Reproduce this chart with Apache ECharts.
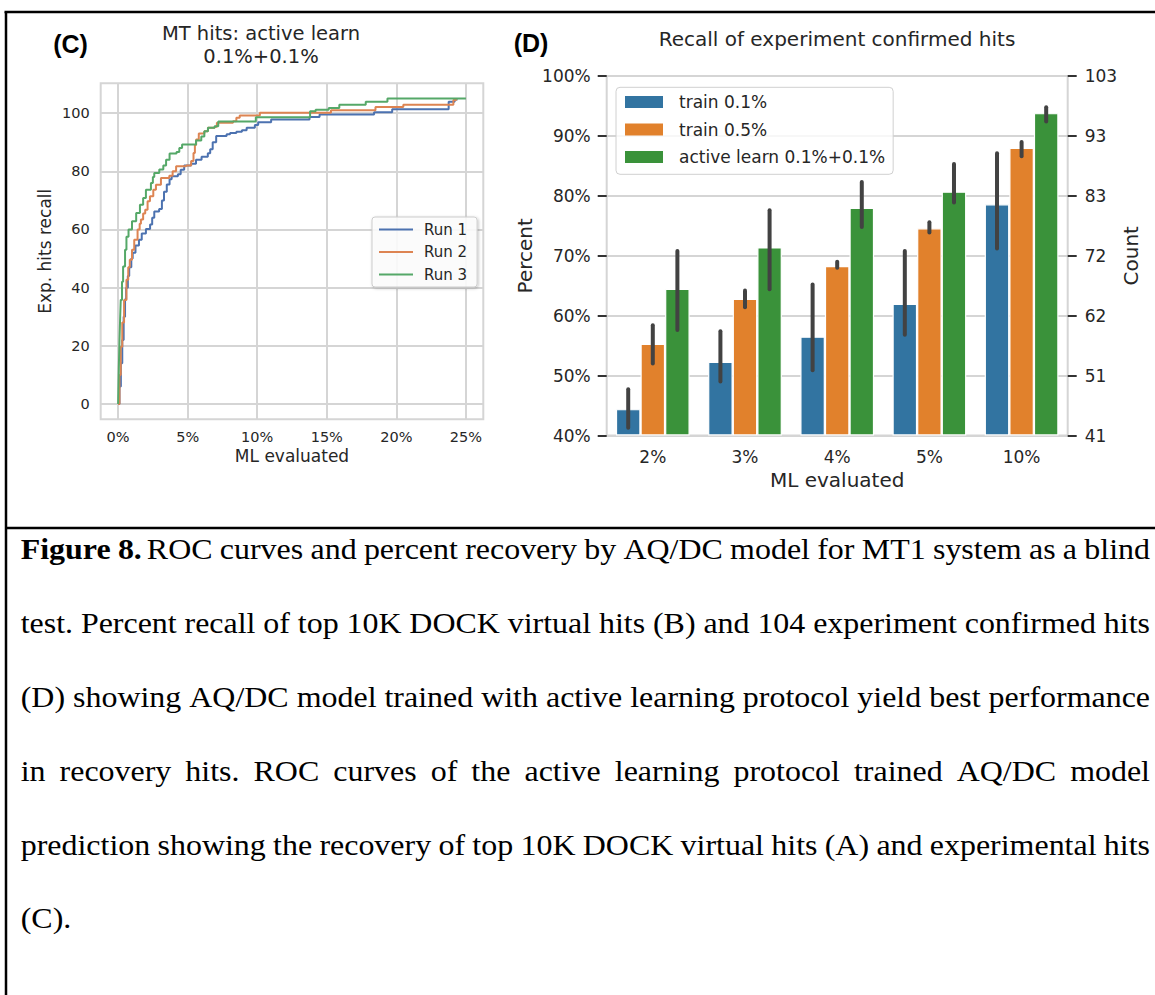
<!DOCTYPE html>
<html>
<head>
<meta charset="utf-8">
<script src="https://cdn.jsdelivr.net/npm/echarts@6/dist/echarts.min.js"></script>
<style>
html,body{margin:0;padding:0;background:#fff;}
#c{width:1155px;height:995px;}
</style>
</head>
<body>
<div id="c"></div>
<script>
// ---------------- DATA ----------------
// Panel (C): cumulative experimental hits recalled vs % of library evaluated
const runNames = ['Run 1', 'Run 2', 'Run 3'];
const run1 = [[0,0],[0.1,6],[0.2,14],[0.3,22],[0.4,30],[0.5,36],[0.58,40],[0.7,44],[0.8,47],[0.95,50],[1.05,52],[1.25,54.5],[1.5,56.5],[1.7,58.6],[2.0,60.2],[2.3,61.7],[2.45,64],[2.6,66.2],[2.95,67],[3.15,70],[3.3,73],[3.5,75.5],[3.7,77.3],[3.85,78.3],[4.3,79],[4.5,80.5],[4.75,82],[5.25,82.6],[5.6,84],[6.0,85],[6.45,86.2],[6.62,87.6],[6.8,90],[7.05,92.1],[7.8,92.7],[8.05,93.2],[8.5,93.6],[8.9,94.1],[9.24,95],[9.83,95.9],[10.07,96.9],[11.0,97.8],[13.76,98.7],[14.48,99.5],[18.4,100.3],[19.7,101.3],[23.76,103.9],[24.19,104.7],[24.4,104.7]];
const run2 = [[0,0],[0.1,10],[0.19,19.7],[0.3,28],[0.43,35.8],[0.6,42.7],[0.73,47],[0.84,49.6],[1.0,53],[1.16,56.5],[1.4,60],[1.55,62],[1.64,63.4],[1.8,65.5],[1.95,66.8],[2.12,69.7],[2.29,71.4],[2.53,73.7],[2.72,75.4],[3.08,77.7],[3.68,78.5],[3.92,80],[4.17,81.7],[4.89,82],[5.25,83.5],[5.42,86.3],[5.52,89],[5.61,90.9],[5.8,93],[6.2,93.8],[6.46,95],[6.94,95.3],[7.1,96.7],[8.26,97.2],[8.5,98.4],[8.74,99.2],[10.19,100.1],[15.3,101],[18.5,102.1],[20.5,102.9],[24.1,104.5],[24.3,105],[24.35,105]];
const run3 = [[0,0],[0.05,12],[0.1,22],[0.15,30],[0.19,35.8],[0.28,42],[0.36,47.3],[0.5,53],[0.6,57.5],[0.75,60],[1.0,62.8],[1.3,65.7],[1.57,68.5],[1.8,70.8],[2.0,73.7],[2.36,76],[2.5,78],[2.6,79.4],[2.96,80.6],[3.25,82],[3.45,84],[3.7,86.1],[4.2,86.6],[4.4,88],[4.6,89.2],[5.6,90.6],[5.98,92],[6.2,93.8],[6.46,95],[6.94,95.5],[7.2,97.1],[9.9,98.6],[13.8,100.6],[14.2,101.2],[15.14,101.8],[15.9,102.9],[17.8,103.9],[19.36,105],[25,105]];
const xTicksC = [0, 5, 10, 15, 20, 25];
const yTicksC = [0, 20, 40, 60, 80, 100];

// Panel (D): recall of experiment confirmed hits (percent) with error bars
const categories = ['2%', '3%', '4%', '5%', '10%'];
const barNames = ['train 0.1%', 'train 0.5%', 'active learn 0.1%+0.1%'];
const train01 = [44.4, 52.3, 56.5, 62.0, 78.6];
const train05 = [55.3, 62.8, 68.3, 74.6, 88.0];
const activeLearn = [64.5, 71.4, 78.0, 80.7, 93.8];
const train01Err = [[41.3, 47.7], [49.0, 57.4], [50.9, 65.2], [56.8, 70.8], [71.2, 87.1]];
const train05Err = [[52.0, 58.4], [61.4, 64.2], [68.0, 69.0], [73.9, 75.6], [86.6, 89.0]];
const activeLearnErr = [[57.6, 70.8], [64.4, 77.6], [74.8, 82.3], [78.9, 85.3], [92.4, 94.8]];
const countTicks = ['41', '51', '62', '72', '83', '93', '103'];

// Caption
const captionLines = [
  'Figure 8. ROC curves and percent recovery by AQ/DC model for MT1 system as a blind',
  'test. Percent recall of top 10K DOCK virtual hits (B) and 104 experiment confirmed hits',
  '(D) showing AQ/DC model trained with active learning protocol yield best performance',
  'in recovery hits. ROC curves of the active learning protocol trained AQ/DC model',
  'prediction showing the recovery of top 10K DOCK virtual hits (A) and experimental hits',
  '(C).'
];

// ---------------- STYLE ----------------
const SANS = 'DejaVu Sans';
const SERIF = '"Liberation Serif", "Times New Roman", serif';
const TXT = '#262626';
const GRIDC = '#d5d5d5';
const lineColors = ['#4C72B0', '#DD8452', '#55A868'];
const barColors = ['#3274A1', '#E1812C', '#3A923A'];

const chart = echarts.init(document.getElementById('c'), null, {renderer: 'svg'});

// error bar data: [categoryIndex, seriesIndex, low, high]
const errSets = [train01Err, train05Err, activeLearnErr];
const errData = [];
errSets.forEach((set, s) => set.forEach((e, c) => errData.push([c, s, e[0], e[1]])));

function renderErr(params, api) {
  const cat = api.value(0), s = api.value(1);
  const lo = api.coord([cat, api.value(2)]);
  const hi = api.coord([cat, api.value(3)]);
  const band = api.size([1, 0])[0];
  const bw = band * 0.8 / 3;
  const x = lo[0] + (s - 1) * bw;
  return {
    type: 'line',
    shape: {x1: x, y1: lo[1], x2: x, y2: hi[1]},
    style: {stroke: '#424242', lineWidth: 4, lineCap: 'round'}
  };
}

// ---------------- CAPTION LAYOUT (justified) ----------------
const mctx = document.createElement('canvas').getContext('2d');
const CAP_FONT = 30;
function measure(t, bold) {
  mctx.font = (bold ? 'bold ' : '') + CAP_FONT + 'px ' + SERIF;
  return mctx.measureText(t).width;
}
const CAP_LEFT = 20.7, CAP_RIGHT = 1150, CAP_BASE0 = 559.3, CAP_STEP = 73.8;
function tokens(line, li) {
  return line.split(' ').map((w, wi) => ({w: w, bold: li === 0 && wi < 2}));
}
const spaceW = measure(' ', false);
const refTok = tokens(captionLines[2], 2);
const refW = refTok.reduce((a, t) => a + measure(t.w, t.bold), 0) + spaceW * (refTok.length - 1);
const capSX = (CAP_RIGHT - CAP_LEFT) / refW;
const captionEls = [];
captionLines.forEach((line, li) => {
  const toks = tokens(line, li);
  const widths = toks.map(t => measure(t.w, t.bold) * capSX);
  const wordsW = widths.reduce((a, b) => a + b, 0);
  const justify = li < captionLines.length - 1 && toks.length > 1;
  const gaps = toks.map(() => spaceW * capSX);
  if (justify) {
    let fixedW = 0, nFlex = 0;
    toks.forEach((t, i) => {
      if (i === toks.length - 1) return;
      if (li === 0 && i === 1) { gaps[i] = 5; fixedW += 5; } else nFlex++;
    });
    const flex = (CAP_RIGHT - CAP_LEFT - wordsW - fixedW) / nFlex;
    toks.forEach((t, i) => { if (i < toks.length - 1 && !(li === 0 && i === 1)) gaps[i] = flex; });
  }
  let x = CAP_LEFT;
  const yMid = CAP_BASE0 + li * CAP_STEP - 0.3375 * CAP_FONT;
  toks.forEach((t, i) => {
    captionEls.push({
      type: 'text', x: x, y: yMid, scaleX: capSX, scaleY: 1, silent: true,
      style: {
        text: t.w, x: 0, y: 0, fill: '#000',
        fontFamily: SERIF, fontSize: CAP_FONT, fontWeight: t.bold ? 'bold' : 'normal',
        align: 'left', verticalAlign: 'middle', textAlign: 'left', textVerticalAlign: 'middle'
      }
    });
    x += widths[i] + gaps[i];
  });
});

// ---------------- OPTION ----------------
const titleStyle = {fontFamily: SANS, fontSize: 19.5, fontWeight: 'normal', color: TXT, lineHeight: 21};
const option = {
  animation: false,
  backgroundColor: '#ffffff',
  title: [
    {text: 'MT hits: active learn', left: 261, top: 23.3, textAlign: 'center', padding: 0, textStyle: titleStyle},
    {text: '0.1%+0.1%', left: 261, top: 46.3, textAlign: 'center', padding: 0, textStyle: titleStyle},
    {
      text: 'Recall of experiment confirmed hits', left: 837, top: 28.7, textAlign: 'center', padding: 0,
      textStyle: {fontFamily: SANS, fontSize: 20, fontWeight: 'normal', color: TXT, lineHeight: 20}
    }
  ],
  grid: [
    {left: 100.7, top: 83.3, width: 382.6, height: 336, show: true, borderColor: GRIDC, borderWidth: 2,
     backgroundColor: 'transparent', containLabel: false, outerBoundsMode: 'none'},
    {left: 606.7, top: 76, width: 461, height: 359.5, show: true, borderColor: GRIDC, borderWidth: 2,
     backgroundColor: 'transparent', containLabel: false, outerBoundsMode: 'none'}
  ],
  legend: [
    {
      data: runNames, orient: 'vertical', left: 372, top: 217,
      itemWidth: 34, itemHeight: 14, itemGap: 6.5, padding: [4.5, 10, 4.5, 6],
      backgroundColor: 'rgba(255,255,255,0.85)', borderColor: '#cccccc', borderWidth: 1, borderRadius: 3,
      shadowBlur: 3, shadowColor: 'rgba(0,0,0,0.25)', shadowOffsetX: 1, shadowOffsetY: 1,
      selectedMode: false,
      itemStyle: {opacity: 0},
      lineStyle: {width: 2},
      textStyle: {fontFamily: SANS, fontSize: 15, color: TXT, lineHeight: 16, padding: [0, 0, 0, 6]}
    },
    {
      data: barNames, orient: 'vertical', left: 616, top: 87.3, icon: 'rect',
      itemWidth: 38, itemHeight: 12, itemGap: 7.5, padding: [4.7, 8, 7.3, 9],
      backgroundColor: 'rgba(255,255,255,0.8)', borderColor: '#d0d0d0', borderWidth: 1, borderRadius: 4,
      selectedMode: false,
      itemStyle: {borderWidth: 0},
      textStyle: {fontFamily: SANS, fontSize: 17, color: TXT, lineHeight: 20, padding: [0, 0, 0, 11]}
    }
  ],
  xAxis: [
    {
      gridIndex: 0, type: 'value', min: -1.25, max: 26.25,
      axisLine: {show: false},
      axisTick: {show: false, customValues: xTicksC},
      axisLabel: {customValues: xTicksC, formatter: '{value}%', fontFamily: SANS, fontSize: 14.5, color: TXT, margin: 10},
      splitLine: {show: true, lineStyle: {color: GRIDC, width: 2}},
      name: 'ML evaluated', nameLocation: 'middle', nameGap: 28, nameMoveOverlap: false,
      nameTextStyle: {fontFamily: SANS, fontSize: 17, color: TXT}
    },
    {
      gridIndex: 1, type: 'category', data: categories,
      axisLine: {show: false}, axisTick: {show: false},
      axisLabel: {fontFamily: SANS, fontSize: 17, color: TXT, margin: 13},
      splitLine: {show: false},
      name: 'ML evaluated', nameLocation: 'middle', nameGap: 34, nameMoveOverlap: false,
      nameTextStyle: {fontFamily: SANS, fontSize: 20, color: TXT}
    }
  ],
  yAxis: [
    {
      gridIndex: 0, type: 'value', min: -5.25, max: 110.25,
      axisLine: {show: false},
      axisTick: {show: false, customValues: yTicksC},
      axisLabel: {customValues: yTicksC, fontFamily: SANS, fontSize: 14.5, color: TXT, margin: 11},
      splitLine: {show: true, lineStyle: {color: GRIDC, width: 2}},
      name: 'Exp. hits recall', nameLocation: 'middle', nameGap: 47, nameMoveOverlap: false,
      nameTextStyle: {fontFamily: SANS, fontSize: 17, color: TXT}
    },
    {
      gridIndex: 1, type: 'value', min: 40, max: 100, interval: 10, startValue: 40,
      axisLine: {show: false},
      axisTick: {show: true, length: 9, lineStyle: {color: '#333333', width: 2}},
      axisLabel: {formatter: '{value}%', fontFamily: SANS, fontSize: 17, color: TXT, margin: 16},
      splitLine: {show: true, lineStyle: {color: GRIDC, width: 1.8}},
      name: 'Percent', nameLocation: 'middle', nameGap: 72, nameMoveOverlap: false,
      nameTextStyle: {fontFamily: SANS, fontSize: 20, color: TXT}
    },
    {
      gridIndex: 1, type: 'value', position: 'right', min: 40, max: 100, interval: 10,
      axisLine: {show: false},
      axisTick: {show: true, length: 9, lineStyle: {color: '#333333', width: 2}},
      axisLabel: {
        formatter: function (v) { return countTicks[Math.round((v - 40) / 10)]; },
        fontFamily: SANS, fontSize: 17, color: TXT, margin: 17
      },
      splitLine: {show: false},
      name: 'Count', nameLocation: 'middle', nameGap: 53, nameMoveOverlap: false,
      nameTextStyle: {fontFamily: SANS, fontSize: 20, color: TXT}
    }
  ],
  series: [
    ...[run1, run2, run3].map((d, i) => ({
      type: 'line', name: runNames[i], xAxisIndex: 0, yAxisIndex: 0, data: d,
      step: 'end', symbol: 'none', showSymbol: false, z: 2 + i,
      lineStyle: {width: 2, color: lineColors[i]}, itemStyle: {color: lineColors[i]}
    })),
    ...[train01, train05, activeLearn].map((d, i) => ({
      type: 'bar', name: barNames[i], xAxisIndex: 1, yAxisIndex: 1, data: d,
      barGap: '0%', barCategoryGap: '20%',
      itemStyle: {color: barColors[i], borderColor: '#ffffff', borderWidth: 1.2}
    })),
    {
      type: 'custom', name: 'error', xAxisIndex: 1, yAxisIndex: 1, data: errData,
      renderItem: renderErr, z: 5, encode: {x: 0, y: [2, 3]}, silent: true
    }
  ],
  graphic: {
    elements: [
      {type: 'line', silent: true, shape: {x1: 4.5, y1: 12, x2: 1155, y2: 12}, style: {stroke: '#000', lineWidth: 2.5}},
      {type: 'line', silent: true, shape: {x1: 6, y1: 12, x2: 6, y2: 995}, style: {stroke: '#000', lineWidth: 2.5}},
      {type: 'line', silent: true, shape: {x1: 6, y1: 528, x2: 1155, y2: 528}, style: {stroke: '#000', lineWidth: 2.5}},
      {type: 'text', silent: true, x: 70.5, y: 43.5,
       style: {text: '(C)', fill: '#000', fontFamily: 'Liberation Sans', fontWeight: 'bold', fontSize: 25,
               align: 'center', verticalAlign: 'middle', textAlign: 'center', textVerticalAlign: 'middle'}},
      {type: 'text', silent: true, x: 531, y: 42.5,
       style: {text: '(D)', fill: '#000', fontFamily: 'Liberation Sans', fontWeight: 'bold', fontSize: 25,
               align: 'center', verticalAlign: 'middle', textAlign: 'center', textVerticalAlign: 'middle'}},
      ...captionEls
    ]
  }
};
chart.setOption(option);
</script>
</body>
</html>
